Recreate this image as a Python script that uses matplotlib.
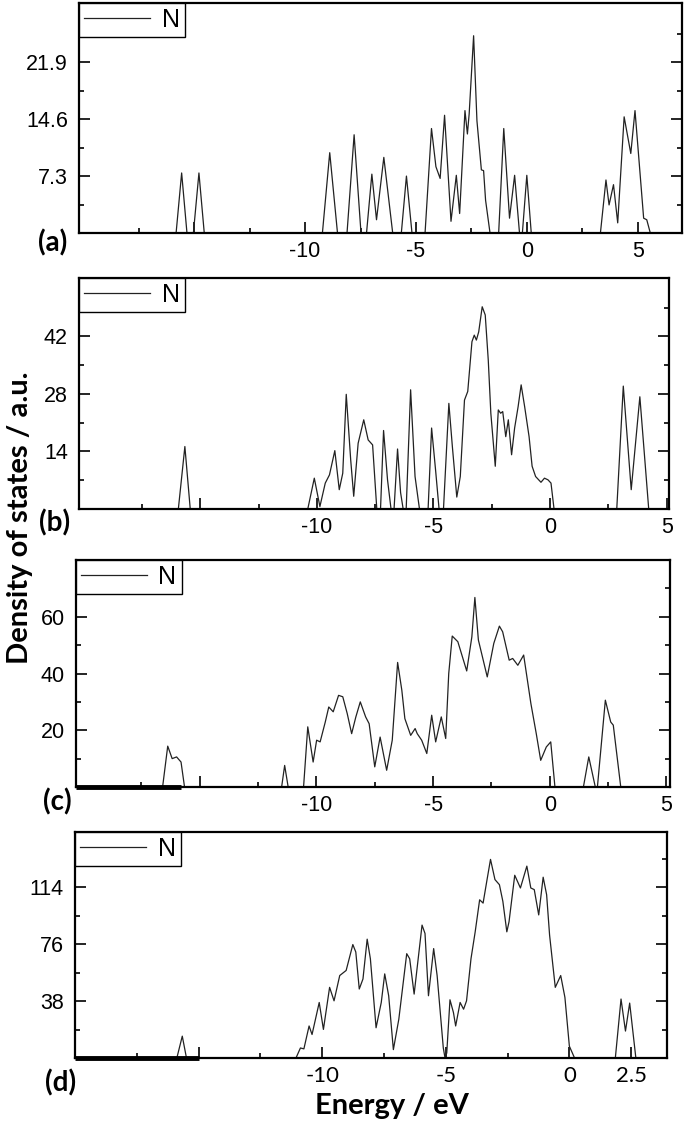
import matplotlib
matplotlib.use("Agg")
from matplotlib import pyplot as plt
from matplotlib.ticker import FixedLocator

# ---- data (energy in eV, DOS in a.u.) ----
energy_a = [-15.82, -15.57, -15.33, -15.04, -14.79, -14.55,
            -9.22, -8.89, -8.54, -8.11, -7.79, -7.48,
            -7.23, -6.99, -6.78, -6.45, -6.05, -5.66, -5.43, -5.18,
            -4.59, -4.30, -4.10, -3.91, -3.71, -3.42, -3.18, -3.03, -2.79, -2.68,
            -2.60, -2.40, -2.25, -2.05, -1.95, -1.86, -1.66,
            -1.27, -1.04, -0.78, -0.55, -0.33, -0.20, 0.0, 0.20,
            3.32, 3.57, 3.71, 3.91, 4.10, 4.39, 4.69, 4.88, 5.27, 5.41, 5.57]
dos_a = [0, 7.7, 0, 0, 7.7, 0,
         0, 10.3, 0, 0, 12.6, 0,
         0, 7.55, 1.7, 9.7, 0, 0, 7.3, 0,
         0, 13.4, 8.5, 7.0, 15.1, 1.5, 7.4, 2.5, 15.7, 12.7,
         15.3, 25.3, 14.4, 8.1, 8.0, 4.2, 0,
         0, 13.4, 1.9, 7.4, 0, 0, 7.4, 0,
         0, 6.8, 3.6, 6.2, 1.3, 14.9, 10.2, 15.7, 1.9, 1.7, 0]

energy_b = [-15.94, -15.66, -15.43,
            -10.39, -10.11, -9.87, -9.64, -9.46, -9.23, -9.04, -8.89, -8.74, -8.55,
            -8.42, -8.23, -7.99, -7.80, -7.61, -7.43,
            -7.27, -7.14, -6.97, -6.82, -6.69, -6.54, -6.41, -6.30,
            -6.17, -5.98, -5.79, -5.60, -5.23, -5.08, -4.91, -4.76,
            -4.57, -4.34, -4.19, -4.00, -3.85, -3.67, -3.53, -3.35, -3.25, -3.16,
            -3.06, -2.91, -2.78, -2.65, -2.54, -2.35, -2.22, -2.12, -2.03, -1.90,
            -1.79, -1.65, -1.52, -1.37, -1.24, -1.09, -0.90, -0.77, -0.62, -0.39,
            -0.24, -0.09, 0.04, 0.17,
            2.86, 3.14, 3.48, 3.85, 4.23]
dos_b = [0, 15.2, 0,
         0, 7.5, 0.6, 6.3, 8.3, 14.2, 4.7, 8.7, 27.9, 12.0,
         3.1, 16.0, 21.7, 16.8, 15.6, 0,
         0, 19.1, 7.1, 0, 0, 14.6, 4.0, 0,
         0, 29.0, 7.9, 0, 0, 19.7, 9.5, 0,
         0, 25.7, 15.2, 2.9, 7.9, 26.5, 28.6, 40.7, 42.3, 41.1,
         43.1, 49.2, 47.2, 36.2, 23.3, 10.4, 24.1, 23.3, 23.7, 17.6,
         21.7, 13.2, 19.7, 24.9, 30.2, 24.9, 17.6, 10.4, 7.9, 6.5,
         7.5, 7.1, 6.3, 0,
         0, 29.9, 4.7, 27.3, 0]

energy_c = [-16.59, -16.37, -16.18, -15.99, -15.80, -15.65,
            -11.49, -11.36, -11.21,
            -10.55, -10.37, -10.14, -9.99, -9.84, -9.62, -9.47, -9.28, -9.05, -8.87,
            -8.68, -8.49, -8.31, -8.12, -7.89, -7.74, -7.50, -7.27, -6.99, -6.75,
            -6.52, -6.34, -6.21, -5.96, -5.77, -5.68, -5.49, -5.27, -5.06, -4.89,
            -4.65, -4.46, -4.33, -4.18, -3.94, -3.56, -3.34, -3.21, -3.06, -2.87,
            -2.68, -2.40, -2.16, -2.02, -1.74, -1.59, -1.37, -1.12, -0.81, -0.58,
            -0.39, -0.15, 0.04, 0.22,
            1.44, 1.67, 1.95, 2.04, 2.38, 2.61, 2.72, 3.04]
dos_c = [0, 14.4, 10.0, 10.6, 8.8, 0,
         0, 7.6, 0,
         0, 21.2, 8.8, 16.5, 15.9, 22.9, 28.2, 26.5, 32.3, 31.8,
         25.9, 18.8, 24.7, 30.0, 24.7, 22.3, 7.1, 17.6, 5.9, 16.5,
         43.9, 34.1, 24.1, 18.2, 20.6, 18.8, 16.5, 11.8, 25.3, 15.9,
         24.7, 17.1, 40.0, 53.2, 51.2, 40.9, 52.9, 66.8, 51.8, 45.3,
         38.8, 50.6, 56.7, 54.7, 44.7, 45.3, 42.9, 46.5, 29.4, 18.8,
         9.4, 14.1, 15.9, 0,
         0, 10.6, 0, 0, 30.6, 22.9, 21.8, 0]

energy_d = [-15.88, -15.66, -15.49,
            -11.06, -10.88, -10.74, -10.53, -10.41, -10.12, -9.95, -9.70, -9.52, -9.29,
            -9.03, -8.76, -8.64, -8.50, -8.35, -8.18, -8.05, -7.82, -7.61, -7.47,
            -7.31, -7.12, -6.90, -6.58, -6.46, -6.28, -5.96, -5.84, -5.70, -5.49,
            -5.35, -5.10, -5.03, -4.96, -4.83, -4.69, -4.60, -4.42, -4.28, -4.16,
            -3.98, -3.81, -3.63, -3.49, -3.33, -3.19, -3.01, -2.83, -2.69, -2.53,
            -2.44, -2.21, -1.98, -1.72, -1.56, -1.42, -1.24, -1.06, -0.92, -0.80,
            -0.57, -0.35, -0.18, 0.0, 0.21,
            1.86, 2.09, 2.27, 2.44, 2.69]
dos_d = [0, 14.6, 0,
         0, 6.7, 6.1, 21.4, 15.7, 37.1, 19.1, 47.2, 38.2, 55.1,
         58.5, 75.8, 70.8, 46.1, 52.8, 79.4, 66.3, 20.2, 37.1, 56.2,
         41.6, 5.6, 25.9, 69.7, 66.3, 42.7, 88.8, 83.2, 41.6, 73.1,
         55.1, 6.7, 0, 3.4, 38.9, 30.4, 21.4, 37.1, 32.6, 38.2,
         66.3, 84.3, 105.7, 103.5, 119.2, 132.7, 119.2, 115.8, 104.6, 84.3,
         91.1, 122.1, 113.6, 128.2, 113.6, 112.5, 95.6, 120.8, 109.1, 82.1,
         47.2, 55.1, 40.5, 7.9, 0,
         0, 39.4, 18.0, 36.7, 0]

# y ticks (labelled) for each panel
yticks_a = [7.3, 14.6, 21.9]
yticks_b = [14, 28, 42]
yticks_c = [20, 40, 60]
yticks_d = [38, 76, 114]

xticks_major = [-15, -10, -5, 0, 5]
xtick_labels = ["", "-10", "-5", "0", "5"]
xticks_major_d = [-15, -10, -5, 0, 2.5]
xtick_labels_d = ["", "-10", "-5", "0", "2.5"]
xticks_minor = [-17.5, -12.5, -7.5, -2.5, 2.5]
xticks_minor_d = [-17.5, -12.5, -7.5, -2.5]

panel_tags = ["(a)", "(b)", "(c)", "(d)"]

# ---- layout (pixels of the 685x1127 picture) ----
W, H = 685, 1127
boxes = [(79, 682, 3, 233), (79, 669, 278, 509), (76, 670, 560, 787), (75, 667, 832, 1058)]
xlims = [(-20.2, 7.0), (-20.2, 5.1), (-20.3, 5.15), (-20.0, 3.95)]
ylims = [(0, 29.5), (0, 56.2), (0, 80), (0, 151)]
tag_pos = [(53, 243), (55, 523), (57, 802), (61, 1083)]

fig = plt.figure(figsize=(W / 100, H / 100), dpi=100)

series = [(energy_a, dos_a, yticks_a), (energy_b, dos_b, yticks_b),
          (energy_c, dos_c, yticks_c), (energy_d, dos_d, yticks_d)]

for i, (e, d, yt) in enumerate(series):
    x0, x1, y0, y1 = boxes[i]
    ax = fig.add_axes([x0 / W, 1 - y1 / H, (x1 - x0) / W, (y1 - y0) / H])
    xs = [xlims[i][0]] + e + [xlims[i][1]]
    ys = [0] + d + [0]
    ax.plot(xs, ys, color="#222222", lw=0.9, label="N")
    ax.set_xlim(*xlims[i])
    ax.set_ylim(*ylims[i])

    # ticks
    if i == 3:
        ax.set_xticks(xticks_major_d)
        ax.set_xticklabels(xtick_labels_d, fontfamily="Lato", fontsize=16)
        ax.xaxis.set_minor_locator(FixedLocator(xticks_minor_d))
    else:
        ax.set_xticks(xticks_major)
        ax.set_xticklabels(xtick_labels, fontfamily="Liberation Sans", fontsize=15.5)
        ax.xaxis.set_minor_locator(FixedLocator(xticks_minor))
    step = yt[0]
    ax.set_yticks(yt)
    ax.set_yticklabels([("%g" % v) for v in yt], fontfamily="Liberation Sans", fontsize=15.5)
    ax.yaxis.set_minor_locator(FixedLocator([step / 2 + k * step for k in range(4)]))
    ax.tick_params(axis="x", which="both", direction="in", top=False, pad=6)
    ax.tick_params(axis="y", which="both", direction="in", left=True, right=True, pad=8)
    ax.tick_params(which="major", length=8, width=1.2)
    ax.tick_params(which="minor", length=3.8, width=1.2)
    for sp in ax.spines.values():
        sp.set_linewidth(1.6)

    # the thick stroke along the left part of the baseline in (c) and (d)
    if i == 2:
        ax.plot([xlims[i][0], -15.8], [0, 0], color="black", lw=3.5, clip_on=False, solid_capstyle="butt")
    if i == 3:
        ax.plot([xlims[i][0], -15.0], [0, 0], color="black", lw=3.5, clip_on=False, solid_capstyle="butt")

    leg = ax.legend(loc="upper left", bbox_to_anchor=(0, 1), borderaxespad=0,
                    fancybox=False, edgecolor="black", framealpha=1,
                    prop={"family": "Liberation Sans", "size": 18},
                    handlelength=2.65, handletextpad=0.45, borderpad=0.2)
    leg.get_frame().set_linewidth(1.0)

    tx, ty = tag_pos[i]
    fig.text(tx / W, 1 - ty / H, panel_tags[i], fontfamily="Lato", fontweight="bold",
             fontsize=20, ha="center", va="center")

fig.text(20 / W, 1 - 518 / H, "Density of states / a.u.", rotation=90,
         fontfamily="Lato", fontweight="bold", fontsize=21, ha="center", va="center")
fig.text(392 / W, 1 - 1106 / H, "Energy / eV", fontfamily="Lato",
         fontweight="bold", fontsize=21, ha="center", va="center")

fig.savefig("out.png", dpi=100)
